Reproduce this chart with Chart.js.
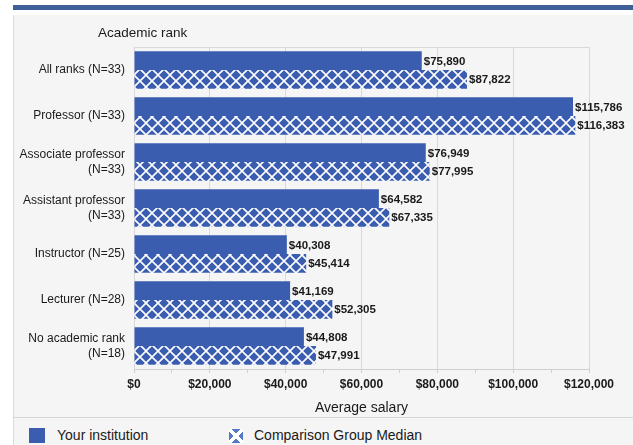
<!DOCTYPE html>
<html lang="en">
<head>
<meta charset="UTF-8">
<title>Average salary by academic rank</title>
<script src="https://cdn.jsdelivr.net/npm/chart.js"></script>
<style>
    body { margin: 0; background: #fff; font-family: "Liberation Sans", Arial, sans-serif; }
    .faixa { position: absolute; left: 13px; top: 5px; width: 620px; height: 5px; background: #3f5f98; }
    .painel { position: absolute; left: 13px; top: 15px; width: 620px; height: 430px; background: #f5f5f5; border-left: 1px solid #dcdcdc; box-sizing: border-box; }
    .grafico { position: absolute; left: 0; top: 0; width: 620px; height: 402px; }
    .legenda { position: absolute; left: 0; top: 402px; width: 620px; height: 28px; border-top: 1px solid #d6d6d6; }
    .item { position: absolute; top: 8px; font-size: 14px; color: #1a1a1a; line-height: 18px; }
    .quad { position: absolute; top: 10px; width: 16px; height: 15px; }
    .azul { background: #3b5db0; }
    .xis { width: 14px; height: 14px; top: 11px; background:
        linear-gradient(45deg, transparent 40%, #fff 40%, #fff 58%, transparent 58%),
        linear-gradient(-45deg, transparent 40%, #fff 40%, #fff 58%, transparent 58%),
        #5378c6; }
</style>
</head>
<body>
<div class="faixa"></div>
<div class="painel">
    <div class="grafico"><canvas id="grafico"></canvas></div>
    <div class="legenda">
        <div class="quad azul" style="left:15px"></div>
        <div class="item" style="left:43px">Your institution</div>
        <div class="quad xis" style="left:215px"></div>
        <div class="item" style="left:240px">Comparison Group Median</div>
    </div>
</div>

<script>
    const categorias = [
        'All ranks (N=33)',
        'Professor (N=33)',
        ['Associate professor', '(N=33)'],
        ['Assistant professor', '(N=33)'],
        'Instructor (N=25)',
        'Lecturer (N=28)',
        ['No academic rank', '(N=18)']
    ];
    const suaInstituicao = [75890, 115786, 76949, 64582, 40308, 41169, 44808];
    const medianaGrupo = [87822, 116383, 77995, 67335, 45414, 52305, 47991];
    const ticksX = [0, 20000, 40000, 60000, 80000, 100000, 120000];
    const ticksMenores = [10000, 30000, 50000, 70000, 90000, 110000];

    const AZUL = '#3b5db0';
    const fonte = '"Liberation Sans", Arial, sans-serif';

    const ctx = document.getElementById('grafico');

    function hachura() {
        const c = document.createElement('canvas');
        c.width = 12; c.height = 12;
        const g = c.getContext('2d');
        g.fillStyle = AZUL;
        g.fillRect(0, 0, 12, 12);
        g.strokeStyle = '#ffffff';
        g.lineWidth = 1.6;
        g.beginPath();
        g.moveTo(-2, -2); g.lineTo(14, 14);
        g.moveTo(14, -2); g.lineTo(-2, 14);
        g.stroke();
        return ctx.getContext('2d').createPattern(c, 'repeat');
    }

    function dinheiro(v) {
        return '$' + v.toLocaleString('en-US');
    }

    // rotulos de valor na ponta das barras + titulo do eixo y
    const rotulos = {
        id: 'rotulos',
        afterDatasetsDraw(chart) {
            const c = chart.ctx;
            c.save();
            c.font = 'bold 11.5px ' + fonte;
            c.fillStyle = '#1a1a1a';
            c.textBaseline = 'middle';
            c.textAlign = 'left';
            chart.data.datasets.forEach((ds, i) => {
                chart.getDatasetMeta(i).data.forEach((barra, j) => {
                    c.fillText(dinheiro(ds.data[j]), barra.x + 2, barra.y + 1);
                });
            });
            c.font = '13.5px ' + fonte;
            c.fillText('Academic rank', 84, 18);
            c.restore();
        }
    };

    new Chart(ctx, {
        type: 'bar',
        data: {
            labels: categorias,
            datasets: [
                { label: 'Your institution', data: suaInstituicao, backgroundColor: AZUL },
                { label: 'Comparison Group Median', data: medianaGrupo, backgroundColor: hachura() }
            ]
        },
        options: {
            indexAxis: 'y',
            responsive: true,
            maintainAspectRatio: false,
            animation: false,
            categoryPercentage: 0.81,
            barPercentage: 1.0,
            layout: { padding: { top: 32, right: 45, left: 0, bottom: 0 } },
            plugins: {
                legend: { display: false },
                tooltip: { enabled: false }
            },
            scales: {
                x: {
                    min: 0,
                    max: 120000,
                    afterBuildTicks: (s) => { s.ticks = ticksX.concat(ticksMenores).sort((a, b) => a - b).map(v => ({ value: v })); },
                    afterFit: (s) => { s.height = 48; },
                    grid: {
                        color: (c) => (c.tick && c.tick.value % 20000 === 0) ? '#d9d9d9' : 'rgba(0,0,0,0)',
                        tickColor: '#cfcfcf',
                        tickLength: 4
                    },
                    border: { color: '#cfcfcf' },
                    ticks: {
                        autoSkip: false,
                        maxRotation: 0,
                        color: '#1a1a1a',
                        font: { family: fonte, size: 12, weight: 'bold' },
                        padding: 4,
                        callback: (v) => ticksX.includes(v) ? dinheiro(v) : ''
                    },
                    title: {
                        display: true,
                        text: 'Average salary',
                        color: '#1a1a1a',
                        font: { family: fonte, size: 14 },
                        padding: { top: 0, bottom: 0 }
                    }
                },
                y: {
                    afterFit: (s) => { s.width = 120; },
                    grid: { display: false },
                    border: { display: false },
                    ticks: {
                        color: '#1a1a1a',
                        font: { family: fonte, size: 12 },
                        padding: 1
                    }
                }
            }
        },
        plugins: [rotulos, {
            id: 'moldura',
            beforeDatasetsDraw(chart) {
                const a = chart.chartArea, c = chart.ctx;
                c.save();
                c.strokeStyle = '#d9d9d9';
                c.lineWidth = 1;
                c.beginPath();
                c.moveTo(a.left, a.top + 0.5);
                c.lineTo(a.right, a.top + 0.5);
                c.stroke();
                c.restore();
            }
        }]
    });
</script>
</body>
</html>
